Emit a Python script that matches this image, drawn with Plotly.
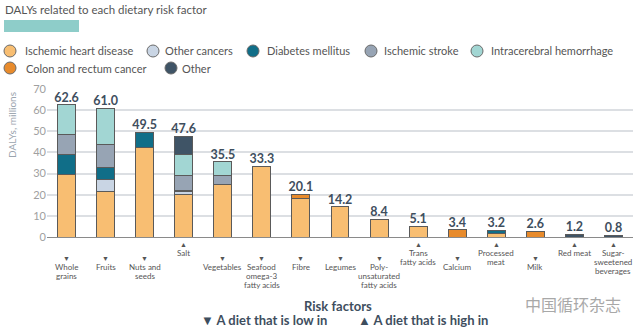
import plotly.graph_objects as go

categories = ["Whole grains", "Fruits", "Nuts and seeds", "Salt", "Vegetables",
              "Seafood omega-3 fatty acids", "Fibre", "Legumes", "Polyunsaturated fatty acids",
              "Trans fatty acids", "Calcium", "Processed meat", "Milk", "Red meat",
              "Sugar-sweetened beverages"]
tick_labels = [["Whole", "grains"], ["Fruits"], ["Nuts and", "seeds"], ["Salt"], ["Vegetables"],
               ["Seafood", "omega-3", "fatty acids"], ["Fibre"], ["Legumes"],
               ["Poly-", "unsaturated", "fatty acids"], ["Trans", "fatty acids"], ["Calcium"],
               ["Processed", "meat"], ["Milk"], ["Red meat"], ["Sugar-", "sweetened", "beverages"]]
direction = ["low", "low", "low", "high", "low", "low", "low", "low", "low",
             "high", "low", "high", "low", "high", "high"]
totals = [62.6, 61.0, 49.5, 47.6, 35.5, 33.3, 20.1, 14.2, 8.4, 5.1, 3.4, 3.2, 2.6, 1.2, 0.8]

causes = ["Ischemic heart disease", "Other cancers", "Diabetes mellitus", "Ischemic stroke",
          "Intracerebral hemorrhage", "Colon and rectum cancer", "Other"]
ihd    = [29.5, 21.6, 42.1, 20.3, 24.6, 33.3, 18.1, 14.2, 8.4, 5.1, 0, 1.8, 0, 0, 0]
oth_ca = [0, 5.8, 0, 1.0, 0, 0, 0, 0, 0, 0, 0, 0, 0, 0, 0]
dm     = [9.4, 5.7, 7.4, 0.6, 0, 0, 0, 0, 0, 0, 0, 1.4, 0, 0, 0]
istr   = [9.8, 10.7, 0, 7.3, 4.3, 0, 0, 0, 0, 0, 0, 0, 0, 0, 0]
ich    = [13.9, 17.2, 0, 9.7, 6.6, 0, 0, 0, 0, 0, 0, 0, 0, 0, 0]
colon  = [0, 0, 0, 0, 0, 0, 2.0, 0, 0, 0, 3.4, 0, 2.6, 0, 0]
other  = [0, 0, 0, 8.7, 0, 0, 0, 0, 0, 0, 0, 0, 0, 1.2, 0.8]
series = [ihd, oth_ca, dm, istr, ich, colon, other]
colors = ["#F8BE72", "#C9D5E4", "#106E88", "#97A4B4", "#A2D6D3", "#E88B2C", "#3F5466"]

FONT = "Lato"
DARK = "#3E4E5E"

fig = go.Figure()
for name, vals, col in zip(causes, series, colors):
    fig.add_trace(go.Bar(
        x=categories, y=[v if v > 0 else None for v in vals], name=name,
        marker=dict(color=col, line=dict(color="#5A5A5A", width=1)),
        width=0.46, showlegend=False))

fig.add_trace(go.Scatter(
    x=categories, y=totals, mode="text", text=[f"<b>{t:.1f}</b>" for t in totals],
    textposition="top center", textfont=dict(family=FONT, size=12.5, color=DARK),
    showlegend=False, cliponaxis=False, hoverinfo="skip"))

W, H = 640, 331
L, R, T, B = 47, 7, 89, 94
pw, ph = W - L - R, H - T - B

def px(x):
    return (x - L) / pw

def py(y):
    return (H - B - y) / ph

ann = []
shapes = []

def add_text(x, y, text, size, color, xanchor="center", xref="paper", angle=0, family=FONT):
    ann.append(dict(x=x, xref=xref, y=py(y), yref="paper", text=text, showarrow=False,
                    xanchor=xanchor, yanchor="middle", textangle=angle,
                    font=dict(family=family, size=size, color=color)))

# x-axis category labels with direction markers
for cat, lines, d in zip(categories, tick_labels, direction):
    if d == "low":
        sym, sy, ty = "▼", 258, 267
    else:
        sym, sy, ty = "▲", 244, 252.5
    add_text(cat, sy, sym, 7, "#555", xref="x")
    for i, line in enumerate(lines):
        add_text(cat, ty + 9 * i, line, 8, "#555", xref="x")

# title and accent bar
add_text(px(3), 9, "DALYs related to each dietary risk factor", 11.5, "#555", xanchor="left")
shapes.append(dict(type="rect", xref="paper", yref="paper", x0=px(4), x1=px(79), y0=py(20), y1=py(32),
                   fillcolor="#8ECDC9", line=dict(width=0)))

# legend
legend_pos = [(10, 51, 23), (153, 51, 163), (253, 51, 265), (371, 51, 382), (477, 51, 489),
              (10, 68, 24), (171, 68, 180)]
for name, col, (cx, cy, tx) in zip(causes, colors, legend_pos):
    shapes.append(dict(type="circle", xref="paper", yref="paper", xsizemode="pixel", ysizemode="pixel",
                       xanchor=px(cx), yanchor=py(cy), x0=-6, x1=6, y0=-6, y1=6,
                       fillcolor=col, line=dict(color="#6A6A6A", width=1)))
    add_text(px(tx), cy, name, 11, "#555", xanchor="left")

# y-axis title
add_text(px(12), 125, "DALYs, millions", 10, "#9AA4AE", angle=-90)

# bottom texts
add_text(px(338), 306, "<b>Risk factors</b>", 13, DARK)
add_text(px(264), 320, "<b>▼ A diet that is low in</b>", 13, DARK)
add_text(px(423), 320, "<b>▲ A diet that is high in</b>", 13, DARK)
# watermark
add_text(px(573), 304, "中国循环杂志", 16, "#A8A8A8", family="Noto Sans CJK SC")

fig.update_layout(
    width=W, height=H, margin=dict(l=L, r=R, t=T, b=B),
    barmode="stack", plot_bgcolor="white", paper_bgcolor="white",
    font=dict(family=FONT),
    xaxis=dict(range=[-0.5, 14.5], showticklabels=False, showgrid=False, ticks="",
               showline=True, linecolor="#8A8A8A", linewidth=1, zeroline=False),
    yaxis=dict(range=[0, 70], dtick=10, showgrid=True, gridcolor="#DCDFE3", gridwidth=1.5,
               zeroline=False, showline=False, ticks="", ticklen=0,
               tickfont=dict(family=FONT, size=11, color="#A0A0A0")),
    annotations=ann, shapes=shapes, bargap=0.54,
)

fig.write_html("out.html")
